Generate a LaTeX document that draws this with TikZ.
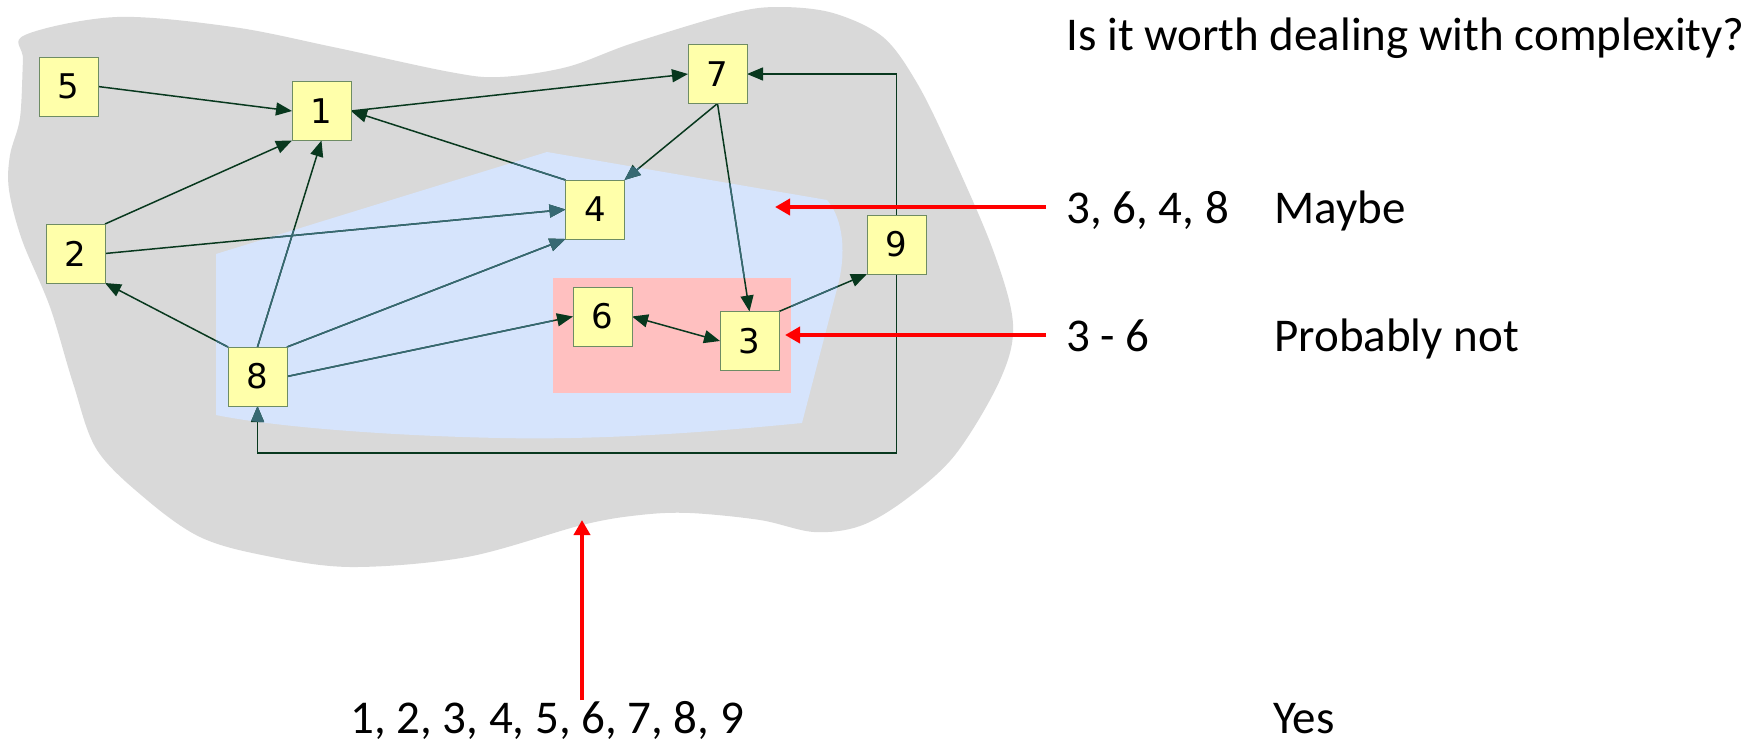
\documentclass[tikz,border=0pt]{standalone}
\usepackage{fontspec}
\setmainfont{Carlito}
\newfontfamily\boxfont{DejaVu Sans}
\usetikzlibrary{arrows.meta}
\definecolor{blobgrey}{RGB}{217,217,217}
\definecolor{regblue}{RGB}{214,228,252}
\definecolor{regpink}{RGB}{255,192,192}
\definecolor{boxyellow}{RGB}{255,255,170}
\definecolor{boxline}{RGB}{110,140,100}
\definecolor{edgegreen}{RGB}{8,56,30}
\definecolor{edgeteal}{RGB}{55,105,115}
\pgfdeclarelayer{bg}
\pgfdeclarelayer{edges}
\pgfsetlayers{bg,edges,main}
\newcommand\myEdges[1]{%
  \draw[edge,color=#1] (n5.east) -- (n1.west);
  \draw[edge,color=#1] (n1.east) -- (n7.west);
  \draw[edge,color=#1] (n4.north west) -- (n1.east);
  \draw[edge,color=#1] (n2.north east) -- (n1.south west);
  \draw[edge,color=#1] (n8.north) -- (n1.south);
  \draw[edge,color=#1] (n2.east) -- (n4.west);
  \draw[edge,color=#1] (n8.north west) -- (n2.south east);
  \draw[edge,color=#1] (n8.north east) -- (n4.south west);
  \draw[edge,color=#1] (n8.east) -- (n6.west);
  \draw[edge,color=#1] (n7.south) -- (n4.north east);
  \draw[edge,color=#1] (n7.south) -- (n3.north);
  \draw[bothedge,color=#1] (n6.east) -- (n3.west);
  \draw[edge,color=#1] (n3.north east) -- (n9.south west);
  \draw[edge,color=#1] (n9.north) |- (n7.east);
  \draw[edge,color=#1] (n9.south) -- (n9.south |- lowline) -| (n8.south);
}
\begin{document}
\begin{tikzpicture}[x=0.5pt,y=-0.5pt,
  gbox/.style={draw=boxline, line width=0.5pt, fill=boxyellow,
    minimum width=29.5pt, minimum height=29.5pt, inner sep=0pt, outer sep=0pt,
    font=\boxfont\fontsize{17}{20}\selectfont},
  edge/.style={line width=0.75pt, -{Triangle[length=8pt,width=6.5pt]}},
  bothedge/.style={line width=0.75pt, {Triangle[length=8pt,width=6.5pt]}-{Triangle[length=8pt,width=6.5pt]}},
  redarrow/.style={red, line width=2pt, -{Triangle[length=7.5pt,width=8pt]}},
  txt/.style={anchor=base west, inner sep=0pt, font=\fontsize{23.5}{28}\selectfont}]
\useasboundingbox (0,0) rectangle (1752,745);

% nodes
\node[gbox] (n5) at (68.5,86.5) {5};
\node[gbox] (n1) at (321.5,111) {1};
\node[gbox] (n7) at (717.5,74) {7};
\node[gbox] (n2) at (75.5,253.5) {2};
\node[gbox] (n4) at (595,209.5) {4};
\node[gbox] (n9) at (896.5,244.5) {9};
\node[gbox] (n6) at (602.5,316.5) {6};
\node[gbox] (n3) at (749.5,341) {3};
\node[gbox] (n8) at (257.5,376.5) {8};
\coordinate (lowline) at (0,453);

% regions
\begin{pgfonlayer}{bg}
\fill[blobgrey] plot[smooth cycle, tension=0.55] coordinates {
  (25,35) (117,17) (233,27) (333,47) (450,72) (500,77) (567,67) (633,43)
  (733,13) (780,7) (833,13) (883,37) (917,83) (950,150) (993,250) (1013,324)
  (1000,380) (955,455) (905,500) (860,526) (814,532) (760,520) (690,513)
  (640,515) (582,525) (467,557) (350,567) (262,555) (200,537) (147,500)
  (97,450) (73,383) (50,307) (22,240) (9,190) (10,155)
  (20,118) (23,60)};
\fill[regblue] (216,254) -- (547,152) -- (827,200)
  .. controls (840,215) and (848,245) .. (838,285) -- (802,423)
  .. controls (700,433) and (600,440) .. (500,438)
  .. controls (400,436) and (280,428) .. (216,415) -- cycle;
\fill[regpink] (553,278) rectangle (791,393);
\end{pgfonlayer}

% connectors
\begin{pgfonlayer}{edges}
\myEdges{edgegreen}
\begin{scope}[even odd rule]
\clip (216,254) -- (547,152) -- (827,200)
  .. controls (840,215) and (848,245) .. (838,285) -- (802,423)
  .. controls (700,433) and (600,440) .. (500,438)
  .. controls (400,436) and (280,428) .. (216,415) -- cycle
  (553,278) rectangle (791,393);
\myEdges{edgeteal}
\end{scope}
\end{pgfonlayer}

% texts
\node[txt] (title) at (1066,50) {Is it worth dealing with complexity?};
\node[txt] (s1) at (1066,223) {3, 6, 4, 8};
\node[txt] (a1) at (1274,223) {Maybe};
\node[txt] (s2) at (1066,351) {3 - 6};
\node[txt] (a2) at (1274,351) {Probably not};
\node[txt] (s3) at (350,733) {1, 2, 3, 4, 5, 6, 7, 8, 9};
\node[txt] (a3) at (1273,733) {Yes};

% red arrows
\coordinate (r1t) at (1046,207);
\coordinate (r1h) at (775,207);
\coordinate (r2t) at (1046,335);
\coordinate (r2h) at (785,335);
\coordinate (r3t) at (582,700);
\coordinate (r3h) at (582,520);
\draw[redarrow] (r1t) -- (r1h);
\draw[redarrow] (r2t) -- (r2h);
\draw[redarrow] (r3t) -- (r3h);
\end{tikzpicture}
\end{document}
